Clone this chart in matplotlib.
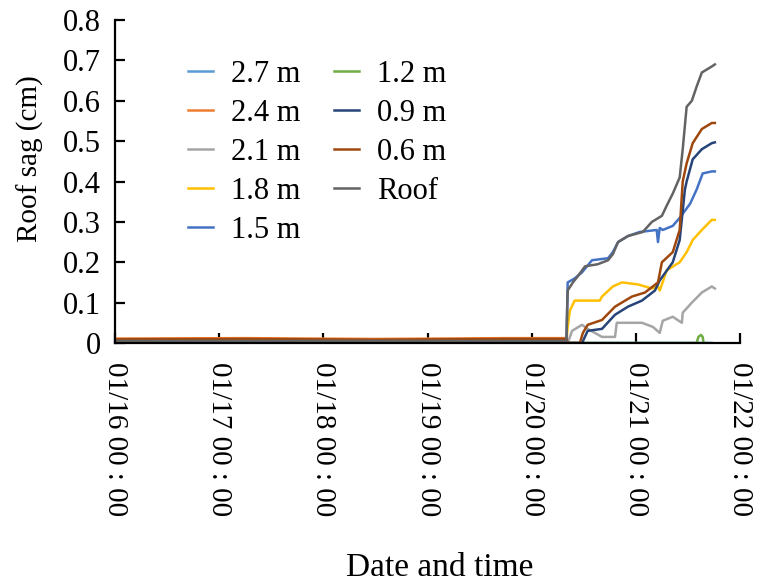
import pandas as pd
import numpy as np
import matplotlib
matplotlib.use("Agg")
import matplotlib.pyplot as plt
import matplotlib.dates as mdates

plt.rcParams['font.family'] = ['Liberation Serif', 'DejaVu Serif']

start = pd.Timestamp('2020-01-16 00:00')

# hours after 01/16 00:00 and sag values (cm)
t_27 = [0, 104.0, 104.3, 137.5]
v_27 = [0.003, 0.003, 0.0, 0.0]

t_24 = [0, 30, 60, 90, 104.0, 104.3]
v_24 = [0.011, 0.012, 0.010, 0.012, 0.012, 0.0]

t_21 = [0, 104.0, 104.3, 105.3, 107.6, 108.9, 112.2, 115.2, 115.6, 121.4, 123.9, 125.5,
        126.2, 128.5, 130.6, 130.8, 132.9, 135.2, 137.5, 138.2]
v_21 = [0.002, 0.002, 0.0, 0.03, 0.045, 0.035, 0.015, 0.015, 0.05, 0.05, 0.04, 0.025,
        0.055, 0.065, 0.05, 0.075, 0.10, 0.125, 0.14, 0.135]

t_18 = [0, 104.0, 104.3, 104.8, 105.9, 111.7, 112.2, 114.7, 116.8, 120.5, 123.7, 125.1,
        125.5, 126.0, 127.1, 130.1, 131.7, 133.1, 135.2, 137.5, 138.2]
v_18 = [0.005, 0.005, 0.04, 0.08, 0.105, 0.105, 0.115, 0.14, 0.15, 0.145, 0.135, 0.14,
        0.13, 0.145, 0.18, 0.20, 0.225, 0.255, 0.28, 0.305, 0.305]

t_15 = [0, 104.0, 104.3, 105.9, 107.6, 109.9, 113.6, 114.7, 115.9, 118.2, 120.9, 124.8,
        125.1, 125.5, 126.2, 128.5, 130.1, 132.5, 134.0, 135.4, 137.5, 138.2]
v_15 = [0.004, 0.004, 0.15, 0.16, 0.175, 0.205, 0.21, 0.225, 0.25, 0.265, 0.275, 0.28,
        0.25, 0.285, 0.28, 0.29, 0.31, 0.345, 0.38, 0.42, 0.425, 0.425]

t_12 = [0, 134.0, 134.4, 135.0, 135.4, 135.6, 136.2]
v_12 = [0.0, 0.0, 0.015, 0.02, 0.015, 0.0, 0.0]

t_09 = [0, 104.0, 104.3, 107.1, 107.6, 108.9, 112.2, 115.2, 118.2, 121.4, 124.4, 125.5,
        128.5, 130.1, 131.3, 131.7, 133.1, 135.2, 137.5, 138.2]
v_09 = [0.004, 0.004, 0.0, 0.0, 0.0, 0.03, 0.035, 0.07, 0.09, 0.105, 0.13, 0.155,
        0.20, 0.255, 0.38, 0.40, 0.455, 0.48, 0.495, 0.497]

t_06 = [0, 30, 60, 90, 104.0, 104.3, 107.1, 107.8, 108.9, 112.2, 115.2, 119.1, 122.1,
        125.1, 126.0, 128.5, 130.1, 130.8, 131.7, 133.1, 135.2, 137.5, 138.2]
v_06 = [0.009, 0.010, 0.008, 0.010, 0.010, 0.0, 0.0, 0.025, 0.045, 0.057, 0.09, 0.115,
        0.125, 0.15, 0.20, 0.225, 0.28, 0.40, 0.445, 0.495, 0.53, 0.545, 0.545]

t_roof = [0, 104.0, 104.3, 105.5, 106.6, 108.3, 111.2, 113.6, 114.7, 115.9, 118.2, 121.6,
          123.7, 126.0, 127.1, 128.5, 130.1, 130.8, 131.7, 132.9, 134.0, 135.2, 137.5, 138.2]
v_roof = [0.005, 0.005, 0.13, 0.15, 0.165, 0.19, 0.195, 0.205, 0.22, 0.25, 0.265, 0.275,
          0.30, 0.315, 0.34, 0.37, 0.41, 0.48, 0.585, 0.60, 0.635, 0.67, 0.685, 0.69]

labels = ['2.7 m', '2.4 m', '2.1 m', '1.8 m', '1.5 m', '1.2 m', '0.9 m', '0.6 m', 'Roof']
times = [t_27, t_24, t_21, t_18, t_15, t_12, t_09, t_06, t_roof]
values = [v_27, v_24, v_21, v_18, v_15, v_12, v_09, v_06, v_roof]
colors = ['#5B9BD5', '#ED7D31', '#A5A5A5', '#FFC000', '#4472C4',
          '#70AD47', '#264478', '#9E480E', '#636363']

fig = plt.figure(figsize=(7.59, 5.84), dpi=100)
ax = fig.add_axes([0.1515, 0.4127, 0.8235, 0.553])

for t, v, c, lab in zip(times, values, colors, labels):
    x = start + pd.to_timedelta(np.array(t), unit='h')
    ax.plot(x, v, color=c, lw=1.8, label=lab)

ax.set_xlim(start, start + pd.Timedelta(days=6))
ax.set_ylim(0, 0.8)
ax.set_yticks(np.arange(0, 0.81, 0.1))
ax.set_yticklabels(['0'] + [f'{y:.1f}' for y in np.arange(0.1, 0.81, 0.1)])
ax.xaxis.set_major_locator(mdates.DayLocator())
ax.xaxis.set_major_formatter(mdates.DateFormatter('%m/%d %H : %M'))

ax.spines['top'].set_visible(False)
ax.spines['right'].set_visible(False)
ax.spines['left'].set_linewidth(1.6)
ax.spines['bottom'].set_linewidth(1.6)
ax.tick_params(direction='in', length=7, width=1.6, labelsize=22)
ax.tick_params(axis='y', pad=10)
ax.tick_params(axis='x', pad=14, labelsize=21)
for lab in ax.get_xticklabels():
    lab.set_rotation(270)
    lab.set_va('top')
    lab.set_ha('center')

ax.set_ylabel('Roof sag (cm)', fontsize=21)
ax.yaxis.set_label_coords(-0.113, 0.57)
ax.set_xlabel('Date and time', fontsize=24)
ax.xaxis.set_label_coords(0.52, -0.65)

ax.legend(ncol=2, frameon=False, fontsize=22, handlelength=0.8,
          loc='upper left', bbox_to_anchor=(0.093, 0.925), borderpad=0,
          labelspacing=0.33, columnspacing=1.1, handletextpad=0.6)

fig.savefig('out.png', dpi=100)
